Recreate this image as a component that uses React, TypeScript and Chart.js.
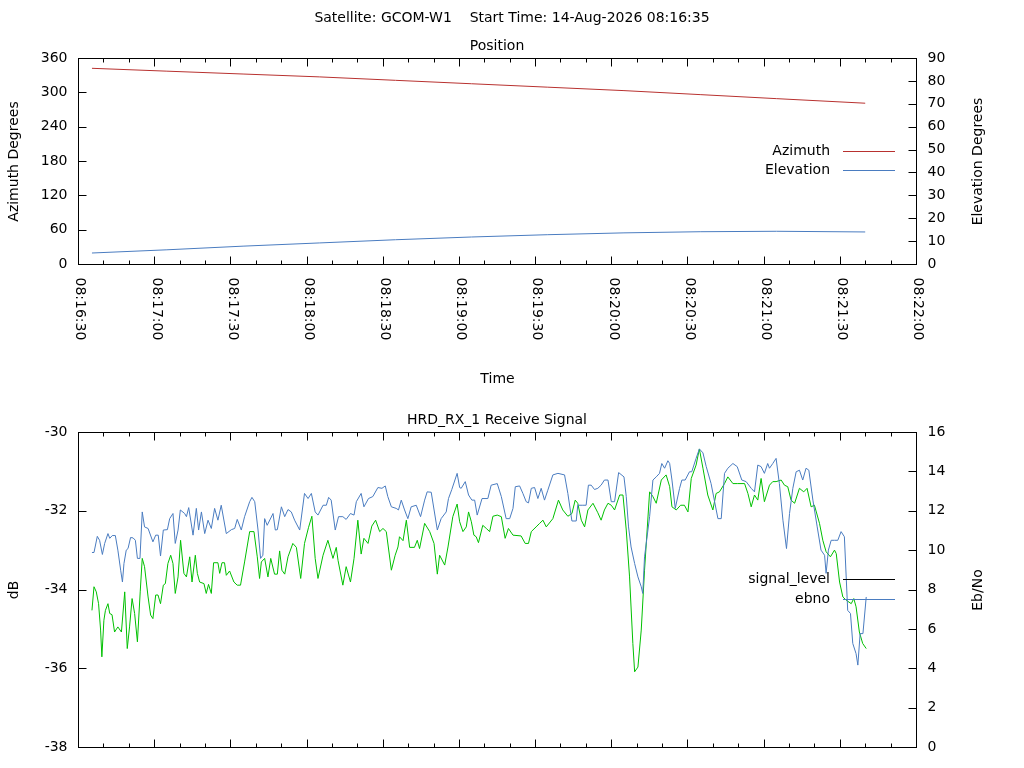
import React, { useEffect, useRef } from "react";
import { Chart, registerables } from "chart.js";
Chart.register(...registerables);

const START = 8 * 3600 + 16 * 60 + 30;
const xMajorTicks = [0, 30, 60, 90, 120, 150, 180, 210, 240, 270, 300, 330];
const azTicks = [0, 60, 120, 180, 240, 300, 360];
const elTicks = [0, 10, 20, 30, 40, 50, 60, 70, 80, 90];
const dbTicks = [-38, -36, -34, -32, -30];
const ebTicks = [0, 2, 4, 6, 8, 10, 12, 14, 16];

const posTime = [5.5, 35, 65, 95, 125, 155, 185, 215, 245, 275, 310];
const azimuth = [342, 337, 332, 327, 321, 315, 309, 303, 296, 289, 281];
const elevation = [4.8, 6.2, 7.8, 9.2, 10.6, 11.8, 12.8, 13.6, 14.1, 14.3, 14.0];

const blueT = [5.5,6.3,7.6,8.5,9.6,10.5,11.8,12.5,13.5,14.7,15.7,16.8,17.5,18.1,19.0,19.7,20.7,21.7,22.6,23.4,24.4,25.3,26.2,27.6,29.5,30.6,31.6,32.5,33.6,35.2,36.1,37.4,38.3,39.4,40.3,42.0,42.7,43.6,45.3,46.6,47.5,48.6,49.9,51.2,52.5,53.8,55.1,56.4,58.4,60.4,61.7,62.7,64.3,65.6,67.6,68.5,69.6,70.9,71.9,72.8,73.5,74.5,76.8,77.7,78.5,80.1,81.4,82.7,84.0,85.3,87.3,89.2,90.6,91.9,93.4,94.5,96.5,97.8,98.7,99.7,101.3,102.6,104.3,105.6,107.3,108.7,109.6,111.5,112.6,114.4,116.1,118.1,119.7,121.0,122.0,123.4,125.3,126.2,127.3,128.6,129.9,131.2,133.2,134.9,136.5,137.5,139.1,141.5,143.0,145.0,145.9,147.2,149.3,150.3,150.9,152.5,153.8,155.1,156.2,157.2,159.1,161.4,162.7,165.1,
166.7,168.6,170.0,171.3,172.2,173.9,175.2,176.5,177.4,178.5,179.8,181.1,182.4,183.7,185.0,187.0,189.0,191.6,192.9,194.5,196.2,196.8,198.8,200.1,201.0,202.1,203.4,204.7,206.0,207.3,208.7,210.0,211.3,212.9,215.0,215.9,216.8,217.8,219.2,220.5,221.8,222.4,223.1,225.1,226.4,227.7,229.0,229.9,231.0,232.3,233.0,233.9,235.2,236.9,237.8,239.1,240.8,241.7,243.4,244.7,246.1,247.4,249.3,252.0,253.3,254.6,255.9,257.9,259.6,261.4,263.1,265.1,266.4,267.7,269.0,270.3,271.6,272.3,273.6,274.9,276.2,277.6,279.0,280.2,281.5,282.8,284.1,285.4,286.7,287.8,289.4,291.1,292.6,294.0,294.6,295.5,296.6,297.9,299.2,300.5,301.8,303.1,304.2,305.1,306.4,307.1,308.0,309.1,310.4];
const blueV = [-33.06,-33.06,-32.65,-32.75,-33.11,-32.83,-32.58,-32.70,-32.63,-32.63,-33.00,-33.51,-33.81,-33.34,-33.00,-32.96,-32.68,-32.69,-32.75,-33.21,-33.21,-32.03,-32.41,-32.45,-32.79,-32.62,-32.62,-33.15,-32.49,-32.48,-32.20,-32.07,-32.83,-32.49,-31.98,-32.07,-32.15,-31.92,-32.62,-31.94,-32.49,-32.03,-32.58,-32.24,-32.45,-31.94,-32.24,-31.86,-32.58,-32.48,-32.45,-32.22,-32.49,-32.15,-31.77,-31.66,-31.77,-32.49,-33.21,-33.13,-32.20,-32.37,-32.07,-32.49,-32.48,-31.90,-32.15,-31.97,-32.03,-32.24,-32.49,-31.56,-31.69,-31.56,-32.03,-32.11,-31.86,-31.86,-31.66,-31.73,-32.49,-32.15,-32.15,-32.22,-32.07,-32.11,-31.77,-31.56,-31.90,-31.69,-31.64,-31.41,-31.43,-31.37,-31.64,-31.90,-31.94,-31.98,-31.73,-31.98,-32.20,-31.90,-31.86,-32.15,-31.73,-31.52,-31.53,-32.49,-32.20,-32.03,-31.69,-31.46,-31.05,-31.41,-31.43,-31.26,-31.60,-31.73,-31.73,-32.11,-31.69,-31.69,-31.35,-31.31,
-31.64,-32.20,-32.20,-31.94,-31.39,-31.37,-31.56,-31.77,-31.80,-31.43,-31.41,-31.69,-31.43,-31.73,-31.48,-31.09,-31.05,-31.09,-31.56,-32.26,-32.26,-31.86,-31.86,-31.86,-31.35,-31.35,-31.46,-31.43,-31.35,-31.22,-31.22,-31.77,-31.77,-31.03,-31.14,-31.64,-32.41,-32.92,-33.34,-33.68,-33.93,-34.10,-33.17,-32.15,-31.22,-31.14,-31.05,-30.80,-30.92,-30.73,-30.80,-31.22,-31.94,-31.43,-31.22,-31.22,-31.01,-31.01,-30.67,-30.43,-30.53,-30.88,-31.31,-32.20,-32.20,-31.05,-30.92,-30.80,-30.88,-31.22,-31.26,-31.43,-31.52,-30.84,-30.88,-31.05,-30.80,-30.92,-30.80,-30.67,-31.31,-32.24,-32.96,-32.07,-31.43,-31.01,-30.97,-31.22,-30.92,-30.97,-31.73,-32.41,-33.00,-33.13,-33.59,-33.00,-32.75,-32.75,-32.75,-32.53,-32.66,-34.53,-34.61,-35.37,-35.63,-35.92,-35.12,-35.12,-34.19];

const greenT = [5.5,6.3,7.2,8.1,8.9,9.4,10.2,10.8,11.8,12.5,13.4,14.4,15.7,17.1,18.4,19.4,20.3,21.3,22.3,23.4,24.5,25.3,26.2,27.6,28.6,29.5,30.6,31.5,32.5,33.6,34.4,35.4,36.5,37.4,38.3,39.4,40.4,41.7,42.7,44.0,44.9,46.2,47.0,47.9,49.6,50.5,51.4,52.5,53.4,55.1,55.8,56.7,57.7,58.4,59.7,61.4,62.7,64.0,65.6,67.6,69.3,70.6,71.5,72.2,73.5,74.8,75.9,77.4,78.5,79.4,80.3,81.4,82.7,84.6,86.0,87.7,89.2,90.8,92.1,93.4,94.5,96.5,98.4,100.4,101.7,102.4,104.3,105.6,107.3,108.7,110.2,111.5,112.6,114.2,115.7,117.2,118.8,120.1,121.4,123.4,124.9,126.0,126.6,128.0,129.3,130.6,132.5,133.6,134.5,136.5,138.5,140.2,141.5,142.4,144.4,145.7,147.6,149.3,150.3,151.6,152.9,153.8,154.9,155.9,156.8,157.7,159.4,160.8,162.1,163.4,165.1,
166.7,168.2,169.5,171.3,174.5,176.1,177.4,178.5,180.4,181.8,183.1,184.4,187.0,189.2,190.9,192.9,194.5,195.8,196.8,198.2,199.5,200.8,202.8,204.7,206.0,207.3,208.7,210.0,211.3,213.3,214.6,215.9,217.2,218.5,219.2,220.5,221.8,223.1,225.1,226.4,227.7,229.7,231.6,233.0,233.9,235.6,237.3,238.8,240.2,241.5,243.4,244.7,246.1,248.0,250.0,251.3,252.6,254.6,255.9,257.9,259.8,262.5,263.8,265.1,266.4,267.7,269.0,270.3,272.3,273.6,274.9,276.9,278.2,279.5,280.8,282.2,284.1,285.8,287.1,288.7,290.0,292.0,293.3,294.6,296.3,297.9,298.6,299.9,301.2,302.5,304.5,305.5,306.4,307.7,309.0,310.4];
const greenV = [-34.53,-33.93,-34.06,-34.36,-35.03,-35.71,-34.78,-34.53,-34.36,-34.61,-34.64,-35.08,-34.95,-35.08,-34.06,-35.50,-34.95,-34.23,-34.61,-35.33,-34.06,-33.21,-33.42,-34.19,-34.65,-34.74,-34.14,-34.14,-34.36,-33.89,-33.85,-33.34,-33.13,-33.34,-34.10,-33.68,-32.75,-33.59,-33.68,-33.17,-33.81,-33.13,-33.59,-33.81,-33.85,-34.10,-33.87,-34.10,-33.32,-33.32,-33.59,-33.32,-33.32,-33.64,-33.53,-33.81,-33.89,-33.89,-33.30,-32.53,-32.53,-33.17,-33.72,-33.30,-33.21,-33.68,-33.21,-33.61,-33.61,-33.02,-33.51,-33.61,-33.17,-32.83,-32.93,-33.72,-32.83,-32.42,-32.14,-33.21,-33.72,-33.13,-32.75,-33.21,-32.93,-33.26,-33.89,-33.42,-33.81,-33.21,-32.24,-33.10,-32.70,-32.83,-32.39,-32.24,-32.53,-32.45,-32.53,-33.51,-33.13,-32.92,-32.66,-32.76,-32.24,-32.93,-32.93,-32.75,-32.96,-32.32,-32.53,-32.83,-33.61,-33.13,-33.38,-32.92,-32.15,-31.83,-32.28,-32.53,-32.41,-32.03,-32.28,-32.62,-32.66,-32.81,-32.37,-32.45,-32.53,-32.14,-32.11,
-32.15,-32.70,-32.45,-32.62,-32.64,-32.83,-32.83,-32.53,-32.41,-32.32,-32.24,-32.41,-32.20,-31.73,-31.98,-32.14,-32.07,-31.73,-31.81,-32.24,-32.41,-31.98,-31.81,-32.05,-32.24,-31.98,-31.81,-31.86,-31.98,-31.60,-31.60,-32.49,-33.68,-35.37,-36.09,-35.97,-35.03,-33.51,-31.52,-31.64,-31.81,-31.22,-31.09,-31.39,-31.90,-31.98,-31.86,-31.86,-32.03,-31.18,-30.84,-30.43,-30.92,-31.60,-31.98,-31.56,-31.52,-31.31,-31.14,-31.31,-31.31,-31.31,-31.56,-31.90,-31.60,-31.73,-31.18,-31.77,-31.35,-31.26,-31.26,-31.22,-31.35,-31.39,-31.73,-31.81,-31.43,-31.52,-31.43,-31.90,-31.86,-32.32,-32.75,-33.04,-33.17,-33.00,-33.09,-33.81,-34.19,-34.27,-34.36,-34.23,-34.44,-35.08,-35.37,-35.50];

const RED = "#b8312f";
const BLUE = "#4a7cc0";
const GREEN = "#00c000";
const FONT = "14px 'DejaVu Sans', sans-serif";

const fmt = (s: number) => {
  const t = START + s;
  const p = (n: number) => String(n).padStart(2, "0");
  return `${p(Math.floor(t / 3600))}:${p(Math.floor((t % 3600) / 60))}:${p(t % 60)}`;
};

const zip = (t: number[], v: number[]) => t.map((x, i) => ({ x, y: v[i] }));

type Cfg = {
  titles: { text: string; x: number; y: number }[];
  leftTitle: string;
  rightTitle: string;
  leftTicks: number[];
  rightTicks: number[];
  xLabels: boolean;
  xTitle?: string;
  legend: { text: string; color: string; y: number }[];
};

function framePlugin(cfg: Cfg) {
  return {
    id: "frame",
    afterDraw(chart: any) {
      const ctx = chart.ctx as CanvasRenderingContext2D;
      const a = chart.chartArea;
      const sx = chart.scales.x, sy = chart.scales.y, sy2 = chart.scales.y2;
      ctx.save();
      ctx.strokeStyle = "#000";
      ctx.fillStyle = "#000";
      ctx.lineWidth = 1;
      ctx.font = FONT;
      const L = Math.round(a.left) + 0.5, R = Math.round(a.right) + 0.5;
      const T = Math.round(a.top) + 0.5, B = Math.round(a.bottom) + 0.5;
      ctx.strokeRect(L, T, R - L, B - T);
      ctx.beginPath();
      for (let s = 0; s <= 330; s += 10) {
        const px = Math.round(sx.getPixelForValue(s)) + 0.5;
        const len = s % 30 === 0 ? 8 : 4;
        ctx.moveTo(px, B); ctx.lineTo(px, B - len);
        ctx.moveTo(px, T); ctx.lineTo(px, T + len);
      }
      cfg.leftTicks.forEach((v) => {
        const py = Math.round(sy.getPixelForValue(v)) + 0.5;
        ctx.moveTo(L, py); ctx.lineTo(L + 8, py);
      });
      cfg.rightTicks.forEach((v) => {
        const py = Math.round(sy2.getPixelForValue(v)) + 0.5;
        ctx.moveTo(R, py); ctx.lineTo(R - 8, py);
      });
      ctx.stroke();
      ctx.textBaseline = "middle";
      ctx.textAlign = "right";
      cfg.leftTicks.forEach((v) => ctx.fillText(String(v), L - 11, sy.getPixelForValue(v)));
      ctx.textAlign = "left";
      cfg.rightTicks.forEach((v) => ctx.fillText(String(v), R + 11, sy2.getPixelForValue(v)));
      if (cfg.xLabels) {
        xMajorTicks.forEach((s) => {
          ctx.save();
          ctx.translate(sx.getPixelForValue(s) + 2, B + 13);
          ctx.rotate(Math.PI / 2);
          ctx.textAlign = "left";
          ctx.fillText(fmt(s), 0, 0);
          ctx.restore();
        });
      }
      ctx.textAlign = "center";
      cfg.titles.forEach((t) => ctx.fillText(t.text, t.x, t.y));
      if (cfg.xTitle) ctx.fillText(cfg.xTitle, (L + R) / 2, B + 115);
      const cy = (T + B) / 2;
      ctx.save(); ctx.translate(14, cy); ctx.rotate(-Math.PI / 2); ctx.fillText(cfg.leftTitle, 0, 0); ctx.restore();
      ctx.save(); ctx.translate(978, cy); ctx.rotate(-Math.PI / 2); ctx.fillText(cfg.rightTitle, 0, 0); ctx.restore();
      ctx.textAlign = "right";
      cfg.legend.forEach((l) => {
        ctx.fillStyle = "#000";
        ctx.fillText(l.text, 830, l.y);
        ctx.strokeStyle = l.color;
        ctx.beginPath();
        ctx.moveTo(843, Math.round(l.y) + 0.5);
        ctx.lineTo(895, Math.round(l.y) + 0.5);
        ctx.stroke();
      });
      ctx.restore();
    },
  };
}

function makeChart(canvas: HTMLCanvasElement, datasets: any[], ranges: any, padding: any, cfg: Cfg) {
  return new Chart(canvas, {
    type: "line",
    data: { datasets },
    options: {
      animation: false,
      responsive: false,
      devicePixelRatio: 1,
      layout: { padding },
      plugins: { legend: { display: false }, tooltip: { enabled: false } },
      elements: { point: { radius: 0 }, line: { borderWidth: 1, tension: 0 } },
      scales: {
        x: { type: "linear", min: 0, max: 330, display: false },
        y: { min: ranges.y[0], max: ranges.y[1], display: false },
        y2: { min: ranges.y2[0], max: ranges.y2[1], display: false, position: "right" },
      },
    },
    plugins: [framePlugin(cfg)],
  } as any);
}

export default function App() {
  const topRef = useRef<HTMLCanvasElement>(null);
  const botRef = useRef<HTMLCanvasElement>(null);
  useEffect(() => {
    const c1 = makeChart(
      topRef.current!,
      [
        { data: zip(posTime, azimuth), borderColor: RED, yAxisID: "y" },
        { data: zip(posTime, elevation), borderColor: BLUE, yAxisID: "y2" },
      ],
      { y: [0, 360], y2: [0, 90] },
      { left: 78, right: 108, top: 58, bottom: 136 },
      {
        titles: [
          { text: "Satellite: GCOM-W1    Start Time: 14-Aug-2026 08:16:35", x: 512, y: 18 },
          { text: "Position", x: 497, y: 46 },
        ],
        leftTitle: "Azimuth Degrees",
        rightTitle: "Elevation Degrees",
        leftTicks: azTicks,
        rightTicks: elTicks,
        xLabels: true,
        xTitle: "Time",
        legend: [
          { text: "Azimuth", color: RED, y: 151 },
          { text: "Elevation", color: BLUE, y: 170 },
        ],
      }
    );
    const c2 = makeChart(
      botRef.current!,
      [
        { data: zip(blueT, blueV), borderColor: BLUE, yAxisID: "y" },
        { data: zip(greenT, greenV), borderColor: GREEN, yAxisID: "y" },
      ],
      { y: [-38, -30], y2: [0, 16] },
      { left: 78, right: 108, top: 32, bottom: 21 },
      {
        titles: [{ text: "HRD_RX_1 Receive Signal", x: 497, y: 20 }],
        leftTitle: "dB",
        rightTitle: "Eb/No",
        leftTicks: dbTicks,
        rightTicks: ebTicks,
        xLabels: false,
        legend: [
          { text: "signal_level", color: "#000", y: 179 },
          { text: "ebno", color: BLUE, y: 199 },
        ],
      }
    );
    return () => { c1.destroy(); c2.destroy(); };
  }, []);
  return (
    <div style={{ position: "absolute", left: 0, top: 0, width: 1024, height: 768, background: "#fff" }}>
      <canvas ref={topRef} width={1024} height={400} style={{ position: "absolute", left: 0, top: 0, width: 1024, height: 400 }} />
      <canvas ref={botRef} width={1024} height={368} style={{ position: "absolute", left: 0, top: 400, width: 1024, height: 368 }} />
    </div>
  );
}
